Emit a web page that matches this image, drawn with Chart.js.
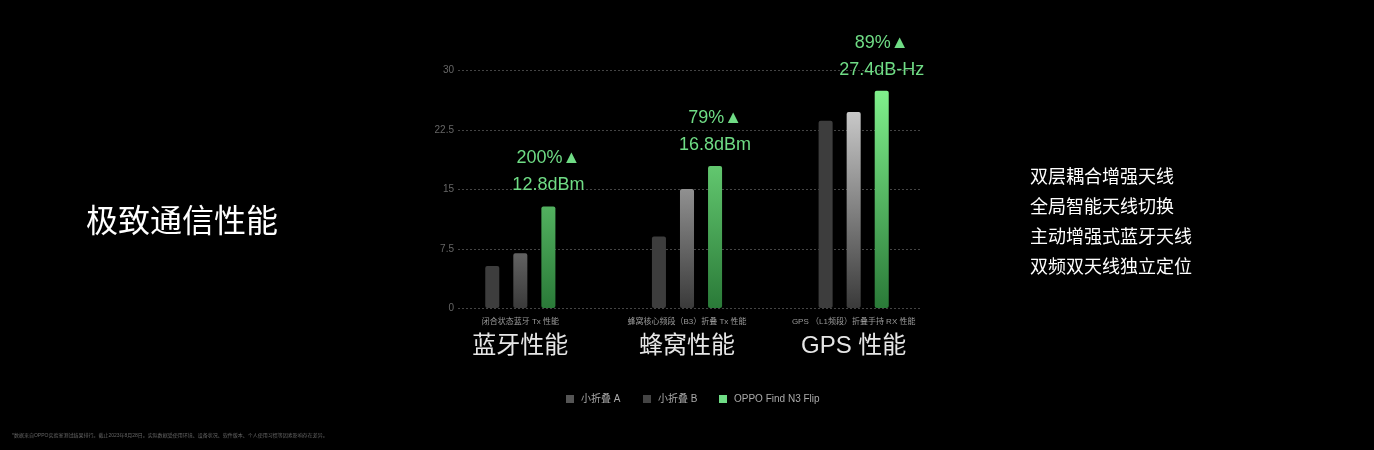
<!DOCTYPE html>
<html><head><meta charset="utf-8">
<script src="https://cdn.jsdelivr.net/npm/chart.js@4"></script>
<style>html,body{margin:0;background:#000;}#w{width:1374px;height:450px;position:relative}</style>
</head><body><div id="w"><canvas id="c"></canvas></div>
<script>
const categories = ['闭合状态蓝牙 Tx 性能','蜂窝核心频段（B3）折叠 Tx 性能','GPS （L1频段）折叠手持 RX 性能'];
const bigLabels = ['蓝牙性能','蜂窝性能','GPS 性能'];
const seriesNames = ['小折叠 A','小折叠 B','OPPO Find N3 Flip'];
const valuesA = [5.3, 9.0, 23.6];
const valuesB = [6.9, 15.0, 24.7];
const valuesC = [12.8, 17.9, 27.4];
const gainLabels = ['200%▲','79%▲','89%▲'];
const valueLabels = ['12.8dBm','16.8dBm','27.4dB-Hz'];
const yTicks = [0, 7.5, 15, 22.5, 30];
const bullets = ['双层耦合增强天线','全局智能天线切换','主动增强式蓝牙天线','双频双天线独立定位'];
const FONT = '"Liberation Sans","Noto Sans CJK SC",sans-serif';

function grad(ctx, area, top, bot){
  if(!area) return top;
  const g = ctx.createLinearGradient(0, area.top+20, 0, area.bottom);
  g.addColorStop(0, top); g.addColorStop(1, bot); return g;
}
const deco = {
  id:'deco',
  beforeDatasetsDraw(ch){
    const c=ch.ctx, y=ch.scales.y;
    c.save();
    c.strokeStyle='#444'; c.lineWidth=1; c.setLineDash([2,2]);
    c.fillStyle='#666'; c.font='10px '+FONT; c.textAlign='right'; c.textBaseline='middle';
    yTicks.forEach(t=>{const p=Math.round(y.getPixelForValue(t))+0.5;
      c.beginPath(); c.moveTo(458,p); c.lineTo(921,p); c.stroke();
      c.fillText(String(t),454,p);});
    c.restore();
  },
  afterDraw(ch){
    const c=ch.ctx, x=ch.scales.x;
    c.save();
    c.textAlign='center'; c.textBaseline='middle';
    const metaC = ch.getDatasetMeta(2);
    categories.forEach((cat,i)=>{
      const cx = x.getPixelForValue(i);
      c.fillStyle='#9a9a9a'; c.font='8px '+FONT; c.fillText(cat,cx,322);
      c.fillStyle='#e6e6e6'; c.font='24px '+FONT; c.fillText(bigLabels[i],cx,346);
      const bx = metaC.data[i].x, by = metaC.data[i].y;
      c.fillStyle='#6fdc85'; c.font='18px '+FONT;
      c.fillText(valueLabels[i],bx,by-21);
      c.fillText(gainLabels[i],bx,by-48);
    });
    const lc=['#555','#444','#6fdc85'], lx=[566,643,719];
    c.textAlign='left'; c.font='10px '+FONT;
    seriesNames.forEach((n,i)=>{c.fillStyle=lc[i]; c.fillRect(lx[i],395,8,8);
      c.fillStyle='#aaa'; c.fillText(n,lx[i]+15,399);});
    c.fillStyle='#fff'; c.font='32px '+FONT; c.fillText('极致通信性能',86,223);
    c.font='18px '+FONT;
    bullets.forEach((b,i)=>c.fillText(b,1030,178+30*i));
    c.fillStyle='#666'; c.font='5px '+FONT;
    c.fillText('*数据来自OPPO实验室测试结果排行。截止2023年8月28日。实际数据受使用环境、设备状况、软件版本、个人使用习惯等因素影响存在差异。',12,436);
    c.restore();
  }
};
new Chart(document.getElementById('c'),{
  type:'bar',
  data:{labels:categories,datasets:[
    {data:valuesA,backgroundColor:'#3d3d3d'},
    {data:valuesB,backgroundColor:(ctx)=>grad(ctx.chart.ctx,ctx.chart.chartArea,'#d8d8d8','#3a3a3a')},
    {data:valuesC,backgroundColor:(ctx)=>grad(ctx.chart.ctx,ctx.chart.chartArea,'#80f08c','#2a7a38')}
  ]},
  options:{responsive:true,maintainAspectRatio:false,animation:false,
    layout:{padding:{left:437,right:437,top:70,bottom:142}},
    datasets:{bar:{categoryPercentage:0.505,barPercentage:0.5,borderRadius:2,borderSkipped:false}},
    plugins:{legend:{display:false},tooltip:{enabled:false}},
    scales:{x:{display:false},y:{display:false,min:0,max:30}}},
  plugins:[deco]
});
</script></body></html>
